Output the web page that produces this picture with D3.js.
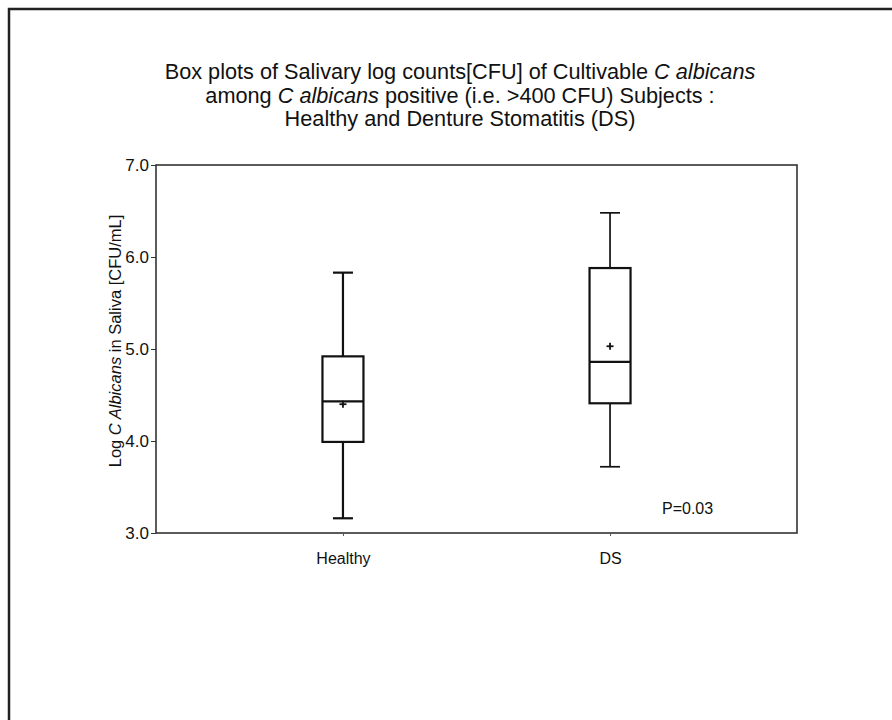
<!DOCTYPE html>
<html><head><meta charset="utf-8">
<script src="https://cdn.jsdelivr.net/npm/d3@7"></script>
<style>body{margin:0;background:#fff}svg{display:block}text{font-family:"Liberation Sans",Arial,sans-serif;fill:#111}</style>
</head><body><svg id="c" width="892" height="720"></svg>
<script>
const categories = ["Healthy", "DS"];
const whiskerLow = [3.16, 3.72];
const q1 = [3.99, 4.41];
const median = [4.43, 4.86];
const q3 = [4.92, 5.88];
const whiskerHigh = [5.83, 6.48];
const means = [4.40, 5.03];
const yTicks = [3, 4, 5, 6, 7];
const pLabel = "P=0.03";

const svg = d3.select("#c");
const L = 156, R = 797, T = 165, B = 533;
const x = d3.scalePoint().domain(categories).range([L, R]).padding(0.7);
const y = d3.scaleLinear().domain([3, 7]).range([B, T]);

// outer frame
svg.append("rect").attr("x", 9).attr("y", 9).attr("width", 1000).attr("height", 1000)
  .attr("fill", "none").attr("stroke", "#222").attr("stroke-width", 2.5);

// title
const title = svg.append("text").attr("text-anchor", "middle").style("font-size", "21.7px");
const t1 = title.append("tspan").attr("x", 460).attr("y", 79);
t1.append("tspan").text("Box plots of Salivary log counts[CFU] of Cultivable ");
t1.append("tspan").attr("font-style", "italic").text("C albicans");
const t2 = title.append("tspan").attr("x", 460).attr("y", 103);
t2.append("tspan").text("among ");
t2.append("tspan").attr("font-style", "italic").text("C albicans");
t2.append("tspan").text(" positive (i.e. >400 CFU) Subjects :");
title.append("tspan").attr("x", 460).attr("y", 126).text("Healthy and Denture Stomatitis (DS)");

// plot frame
svg.append("rect").attr("x", L).attr("y", T).attr("width", R - L).attr("height", B - T)
  .attr("fill", "none").attr("stroke", "#333").attr("stroke-width", 1.6);

// axes
const yAxis = svg.append("g").attr("transform", `translate(${L},0)`)
  .call(d3.axisLeft(y).tickValues(yTicks).tickFormat(d3.format(".1f")).tickSize(5).tickPadding(2));
yAxis.select(".domain").remove();
yAxis.selectAll("line").attr("stroke", "#333");
yAxis.selectAll("text").style("font-size", "17px").attr("fill", "#222").attr("font-family", null);

const xAxis = svg.append("g").attr("transform", `translate(0,${B})`)
  .call(d3.axisBottom(x).tickSize(3).tickPadding(17));
xAxis.select(".domain").remove();
xAxis.selectAll("line").attr("stroke", "#555");
xAxis.selectAll("text").style("font-size", "16px").attr("fill", "#222").attr("font-family", null);

// y label
const yl = svg.append("text").attr("transform", `translate(121,341) rotate(-90)`)
  .attr("text-anchor", "middle").style("font-size", "16.5px");
yl.append("tspan").text("Log ");
yl.append("tspan").attr("font-style", "italic").text("C Albicans");
yl.append("tspan").text(" in Saliva [CFU/mL]");

// boxes
const bw = 41, cap = 10;
const widths = [2.2, 1.7];
categories.forEach((c, i) => {
  const cx = x(c);
  const g = svg.append("g").attr("stroke", "#111").attr("fill", "none").attr("stroke-width", widths[i]);
  g.append("line").attr("x1", cx).attr("x2", cx).attr("y1", y(q3[i])).attr("y2", y(whiskerHigh[i]));
  g.append("line").attr("x1", cx).attr("x2", cx).attr("y1", y(q1[i])).attr("y2", y(whiskerLow[i]));
  g.append("line").attr("x1", cx - cap).attr("x2", cx + cap).attr("y1", y(whiskerHigh[i])).attr("y2", y(whiskerHigh[i]));
  g.append("line").attr("x1", cx - cap).attr("x2", cx + cap).attr("y1", y(whiskerLow[i])).attr("y2", y(whiskerLow[i]));
  g.append("rect").attr("x", cx - bw / 2).attr("y", y(q3[i])).attr("width", bw).attr("height", y(q1[i]) - y(q3[i]))
    .attr("stroke-width", 2.2);
  g.append("line").attr("x1", cx - bw / 2).attr("x2", cx + bw / 2).attr("y1", y(median[i])).attr("y2", y(median[i])).attr("stroke-width", 2.2);
  // mean plus
  g.append("line").attr("x1", cx - 3.5).attr("x2", cx + 3.5).attr("y1", y(means[i])).attr("y2", y(means[i])).attr("stroke-width", 1.8);
  g.append("line").attr("x1", cx).attr("x2", cx).attr("y1", y(means[i]) - 3.5).attr("y2", y(means[i]) + 3.5).attr("stroke-width", 1.8);
});

svg.append("text").attr("x", 662).attr("y", 514).style("font-size", "16px").text(pLabel);
</script></body></html>
